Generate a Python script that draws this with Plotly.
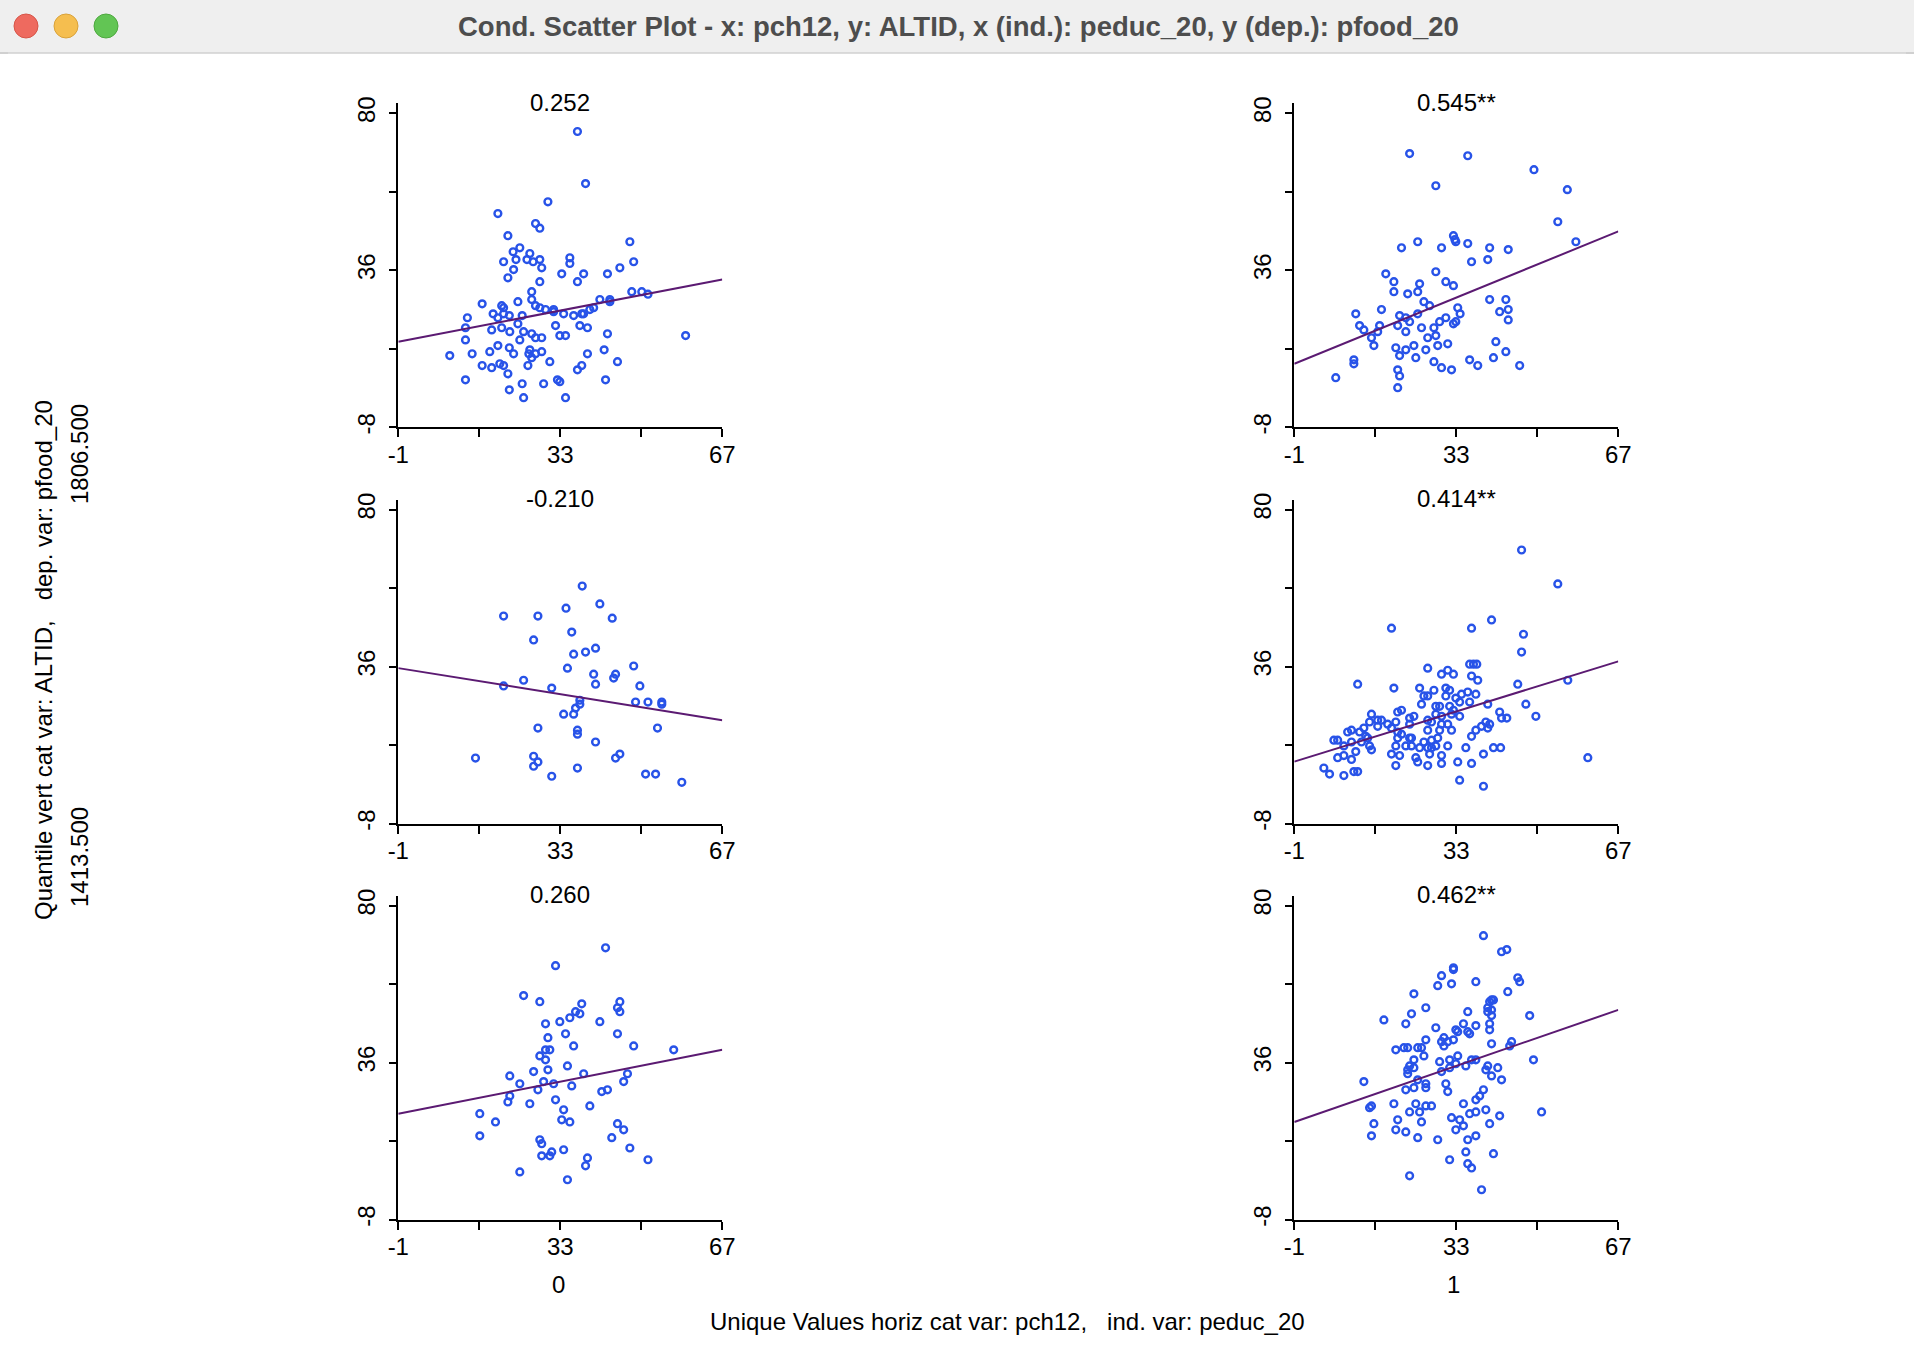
import plotly.graph_objects as go

# browser window size and the default page margin around the figure
WIN_W, WIN_H = 1914, 1368
PAGE_MARGIN = 8
W, H = WIN_W - 2 * PAGE_MARGIN, WIN_H - 2 * PAGE_MARGIN

window_title = "Cond. Scatter Plot - x: pch12, y: ALTID, x (ind.): peduc_20, y (dep.): pfood_20"
col_labels = ["0", "1"]
row_cut_labels = ["1806.500", "1413.500"]
x_axis_title = "Unique Values horiz cat var: pch12,\u00a0\u00a0\u00a0ind. var: peduc_20"
y_axis_title = "Quantile vert cat var: ALTID,\u00a0\u00a0\u00a0dep. var: pfood_20"
corr_labels = [["0.252", "0.545**"], ["-0.210", "0.414**"], ["0.260", "0.462**"]]

x_ticks = [-1, 16, 33, 50, 67]
x_tick_text = ["-1", "", "33", "", "67"]
y_ticks = [-8, 14, 36, 58, 80]
y_tick_text = ["-8", "", "36", "", "80"]

# row 0 (top), col 0
r0c0_x = [36.6,38.3,30.4,19.9,27.8,28.7,22.0,47.6,24.5,23.1,
          26.6,35.0,21.1,23.7,26.0,27.3,28.7,35.0,48.4,23.2,
          29.1,45.5,22.0,33.3,37.9,42.9,28.7,36.6,27.0,48.0,
          50.1,51.4,27.0,41.3,43.4,43.4,16.6,24.1,20.7,21.1,
          27.8,28.7,29.9,31.6,31.6,40.0,39.2,33.7,35.8,37.5,
          37.9,13.5,18.9,19.9,22.3,21.1,25.0,13.1,18.6,20.7,
          22.4,24.1,32.0,37.1,38.7,25.3,27.0,27.8,29.1,32.9,
          34.1,42.9,59.3,13.1,24.5,19.9,22.3,26.6,14.5,18.2,
          23.2,26.4,27.8,29.1,27.0,42.2,38.7,9.8,16.6,18.6,
          20.3,21.1,22.0,26.2,30.8,36.6,37.5,45.0,13.1,32.4,
          32.9,42.5,25.0,29.5,22.3,25.3,34.1]
r0c0_y = [74.9,60.3,55.2,51.9,49.1,47.8,45.7,44.0,42.3,41.2,
          40.7,39.5,38.4,39.0,39.0,38.4,39.0,37.9,38.4,36.2,
          36.7,36.7,33.9,35.0,35.0,35.0,32.8,32.8,30.0,30.0,
          30.0,29.3,27.8,27.8,27.8,27.2,26.6,27.2,26.1,25.5,
          26.1,25.5,25.0,25.0,24.4,25.5,25.0,23.8,23.3,23.8,
          23.8,22.7,23.8,22.7,23.3,23.8,23.3,19.9,19.3,19.9,
          18.8,21.0,20.5,20.5,19.9,18.8,18.2,17.1,17.1,17.7,
          17.7,18.2,17.7,16.5,16.5,14.9,14.3,13.7,12.6,13.2,
          12.6,12.6,12.6,13.2,11.5,13.7,12.6,12.1,9.3,8.7,
          9.8,9.3,7.0,9.3,10.4,8.1,9.3,10.4,5.3,5.3,
          4.8,5.3,4.2,4.2,2.5,0.3,0.3]

# row 0, col 1
r0c1_x = [23.2,35.4,49.3,28.7,56.3,54.3,32.4,32.7,32.9,24.9,
          58.1,35.4,21.5,29.9,40.0,43.9,39.6,36.2,28.7,18.2,
          19.9,30.8,25.3,32.4,19.9,24.9,22.8,26.2,27.4,40.0,
          43.4,17.3,33.3,33.8,42.1,43.9,43.9,11.9,21.1,22.4,
          23.2,24.9,30.8,29.5,32.4,32.9,12.7,13.6,16.9,20.7,
          25.7,28.3,16.5,22.4,15.2,27.0,28.7,15.7,20.3,24.1,
          29.1,31.2,41.3,22.4,26.6,43.4,21.1,24.5,40.8,11.5,
          11.5,28.3,35.8,37.5,46.3,29.9,32.0,20.7,21.1,7.7,
          20.7]
r0c1_y = [68.7,68.1,64.2,59.7,58.6,49.6,45.7,44.6,44.0,44.0,
          44.0,43.5,42.3,42.3,42.3,41.8,39.0,38.4,35.6,35.0,
          32.8,32.8,32.2,31.7,30.0,30.0,29.4,27.2,26.1,27.8,
          27.8,25.0,25.5,23.8,24.4,25.0,22.1,23.8,23.3,22.7,
          21.6,23.8,22.7,21.6,21.0,21.6,20.5,19.3,20.5,20.5,
          19.9,19.9,18.8,18.8,17.1,17.1,17.7,14.9,14.3,14.9,
          14.9,15.4,16.0,13.7,13.7,13.2,12.1,11.5,11.5,10.9,
          9.8,10.4,10.9,9.3,9.3,8.7,8.1,8.1,6.4,5.9,
          3.1]

# row 1, col 0
r1c0_x = [37.6,41.3,34.2,21.1,28.3,43.9,35.4,27.4,40.4,38.3,
          35.8,48.4,34.5,40.0,44.6,44.2,40.4,25.3,21.1,31.2,
          49.7,37.1,37.1,36.2,48.8,51.4,54.3,54.3,33.7,35.8,
          28.3,36.6,36.6,53.4,40.4,15.2,27.4,28.3,27.4,44.6,
          45.5,36.6,31.2,50.9,53.0,58.5]
r1c0_y = [58.6,53.6,52.4,50.2,50.2,49.6,45.7,43.5,41.2,40.1,
          39.5,36.2,35.6,33.9,33.9,32.8,31.1,32.2,30.6,30.0,
          30.6,26.6,25.5,24.4,26.1,26.1,26.1,25.5,22.7,22.7,
          18.8,18.2,17.1,18.8,14.9,10.4,10.9,9.3,8.1,10.4,
          11.5,7.6,5.3,5.9,5.9,3.6]

# row 1, col 1
r1c1_x = [46.7,54.3,40.4,19.4,36.2,47.1,46.7,27.0,31.2,29.9,
          32.4,35.8,36.6,37.3,36.2,37.5,56.4,12.3,45.9,19.9,
          25.3,28.3,30.8,31.6,26.2,27.0,30.8,32.9,34.1,35.4,
          37.1,25.7,28.7,29.5,31.6,33.7,35.8,39.6,47.6,15.2,
          20.7,21.5,28.7,29.9,32.4,33.7,42.1,49.7,42.5,43.6,
          16.5,17.3,14.8,18.6,20.3,23.2,24.1,27.0,27.8,29.9,
          31.2,39.2,40.0,13.6,16.5,19.4,23.2,27.0,29.5,32.0,
          37.1,38.3,39.6,10.2,11.0,12.7,14.0,14.4,20.7,21.5,
          20.7,23.2,23.6,26.2,27.8,29.1,36.2,7.3,8.1,11.0,
          13.1,9.4,14.8,15.2,20.3,22.4,23.6,25.3,27.0,27.8,
          28.7,31.2,35.0,40.8,42.3,11.9,9.4,8.1,11.0,19.4,
          21.1,24.5,24.9,27.4,29.9,29.9,33.3,36.2,38.7,60.6,
          5.2,6.4,9.4,11.5,12.3,20.3,27.0,33.7,38.7,32.0]
r1c1_y = [68.7,59.2,49.1,46.8,46.8,45.1,40.1,35.6,35.0,33.9,
          33.9,36.7,36.7,36.7,33.4,32.2,32.2,31.1,31.1,30.0,
          30.0,29.4,30.0,29.4,27.8,27.8,27.8,27.2,28.3,28.9,
          28.3,25.5,24.9,24.9,24.9,26.1,26.1,25.5,25.5,22.7,
          23.3,23.8,22.7,22.1,23.8,22.1,23.3,22.1,21.6,21.6,
          21.0,21.0,20.5,19.9,20.5,21.6,22.1,21.0,20.5,19.9,
          19.9,20.5,19.9,18.8,19.3,18.8,19.9,18.2,18.2,18.2,
          18.2,19.3,18.8,17.7,18.2,17.7,16.5,16.0,17.7,17.1,
          16.0,16.0,16.0,14.9,15.4,16.0,16.5,15.4,15.4,14.9,
          14.9,13.8,13.8,12.7,13.8,13.8,13.8,13.3,13.3,13.3,
          13.8,13.8,13.3,13.3,13.3,12.2,11.1,10.5,10.0,11.5,
          11.1,10.5,9.3,11.5,11.1,8.9,9.3,8.9,11.5,10.5,
          7.6,5.9,5.5,6.6,6.6,8.3,8.3,4.2,2.5,22.7]

# row 2, col 0
r2c0_x = [42.5,32.0,25.3,28.7,45.5,45.0,45.5,37.5,36.2,37.1,
          35.0,32.9,41.3,29.9,34.1,45.0,30.4,35.8,48.4,56.8,
          29.9,30.8,28.7,29.9,34.5,27.4,30.4,37.9,47.1,22.4,
          29.5,31.6,24.5,35.4,46.3,28.3,41.7,42.9,22.4,22.0,
          26.6,32.0,39.2,33.7,16.1,19.4,33.3,35.0,45.0,46.3,
          16.1,28.7,29.1,43.8,47.6,31.2,33.7,29.1,30.8,38.7,
          38.3,51.4,24.5,34.5]
r2c0_y = [68.2,63.2,54.8,53.1,53.1,51.4,50.3,52.5,50.3,49.7,
          48.6,47.5,47.5,46.9,44.1,44.1,43.0,40.7,40.7,39.6,
          39.6,39.6,37.9,36.8,35.1,33.5,34.0,32.9,32.9,32.3,
          30.7,30.1,30.1,29.5,30.7,28.4,27.9,28.4,26.7,25.0,
          24.5,25.6,23.9,22.8,21.7,19.4,20.0,19.4,18.9,17.2,
          15.5,14.4,13.3,15.0,12.1,11.0,11.6,9.9,9.9,9.3,
          7.1,8.8,5.4,3.2]

# row 2, col 1
r2c1_x = [38.7,42.5,43.6,32.4,32.4,29.9,45.9,46.3,37.1,29.1,
          32.0,43.8,24.1,40.4,40.8,40.0,26.6,39.6,39.6,40.4,
          40.4,35.4,23.6,48.4,17.8,22.4,34.5,37.1,40.0,28.7,
          40.0,32.9,33.3,35.4,35.8,30.4,32.4,29.9,31.2,26.6,
          30.4,40.4,44.6,44.2,20.3,22.0,22.8,24.9,25.7,26.2,
          24.1,33.3,29.5,31.6,32.9,35.0,36.2,37.1,49.2,23.2,
          24.1,22.8,22.8,29.9,31.6,39.6,39.2,41.7,40.4,42.5,
          13.6,24.9,26.6,30.8,22.4,24.1,26.6,31.2,38.7,37.9,
          37.1,19.9,24.5,26.6,27.8,34.5,14.8,15.2,23.2,25.3,
          35.8,37.1,39.2,32.0,33.7,42.1,20.7,25.7,15.7,40.0,
          34.5,32.9,20.3,22.4,15.2,24.9,29.1,35.4,37.1,35.0,
          40.8,31.6,35.4,36.2,23.2,38.3,50.9]
r2c1_y = [71.6,67.1,67.7,62.6,62.1,60.4,59.8,58.7,58.7,57.6,
          58.1,55.9,55.3,53.6,53.6,53.1,51.4,51.4,50.3,50.8,
          49.2,50.3,49.7,49.2,48.0,46.9,46.9,46.4,46.9,45.8,
          45.2,45.2,44.7,44.7,44.1,43.0,42.4,41.9,41.9,42.4,
          40.7,41.3,41.9,40.7,39.6,40.2,40.2,40.2,40.2,37.9,
          36.8,37.9,36.3,36.8,35.7,35.1,36.8,36.8,36.8,35.1,
          34.6,34.0,32.9,33.5,34.6,35.1,34.0,34.6,32.3,31.2,
          30.7,31.2,30.1,30.1,28.4,29.0,29.0,27.9,28.4,26.7,
          25.6,24.5,24.5,23.9,23.9,24.5,23.4,23.9,22.2,22.2,
          21.7,22.2,22.8,20.6,20.0,21.1,20.0,19.4,18.9,18.9,
          18.3,17.2,17.2,16.6,15.5,15.0,14.4,14.4,15.5,11.0,
          10.5,8.8,7.7,6.5,4.3,0.4,22.2]

# regression lines: y at x = -1 and x = 67
fit_x = [-1, 67]
r0c0_fit = [16.0, 33.4]
r0c1_fit = [9.8, 46.9]
r1c0_fit = [35.6, 21.0]
r1c1_fit = [9.4, 37.5]
r2c0_fit = [21.7, 39.6]
r2c1_fit = [19.4, 50.8]

panels = [
    [(r0c0_x, r0c0_y, r0c0_fit), (r0c1_x, r0c1_y, r0c1_fit)],
    [(r1c0_x, r1c0_y, r1c0_fit), (r1c1_x, r1c1_y, r1c1_fit)],
    [(r2c0_x, r2c0_y, r2c0_fit), (r2c1_x, r2c1_y, r2c1_fit)],
]

# ---------------- layout (window pixels) ----------------
FONT = "Liberation Sans, Arial, Helvetica, sans-serif"
FS = 24
col_left = [398.3, 1294.3]
plot_w = 324.0
row_top80 = [113.3, 509.7, 905.7]
plot_h = 314.0  # from y=80 to y=-8
ext_px = 10.0   # y-axis line extends above 80
y_top = 80 + ext_px * 88.0 / plot_h
BAR_H = 53
BAR_COLOR = "#efefef"
BAR_EDGE = "#d0d0d0"

def px(x):
    return (x - PAGE_MARGIN) / W

def py(y):
    return 1 - (y - PAGE_MARGIN) / H

fig = go.Figure()
layout_axes = {}
annotations = []
k = 0
for r in range(3):
    for c in range(2):
        k += 1
        xs, ys, fit = panels[r][c]
        xa = "x" if k == 1 else f"x{k}"
        ya = "y" if k == 1 else f"y{k}"
        fig.add_trace(go.Scatter(
            x=xs, y=ys, mode="markers", xaxis=xa, yaxis=ya,
            marker=dict(symbol="circle-open", size=6.8, color="#2853e8",
                        line=dict(width=2.4, color="#2853e8")),
            showlegend=False, hoverinfo="x+y"))
        fig.add_trace(go.Scatter(
            x=fit_x, y=fit, mode="lines", xaxis=xa, yaxis=ya,
            line=dict(color="#5b1a72", width=2),
            showlegend=False, hoverinfo="skip"))
        x0 = col_left[c]
        bottom = row_top80[r] + plot_h
        top = row_top80[r] - ext_px
        common = dict(showline=True, linecolor="black", linewidth=1.6,
                      ticks="outside", ticklen=8, tickwidth=1.6, tickcolor="black",
                      showgrid=False, zeroline=False, automargin=False,
                      tickfont=dict(family=FONT, size=FS, color="black"),
                      fixedrange=True)
        layout_axes["xaxis" if k == 1 else f"xaxis{k}"] = dict(
            domain=[px(x0), px(x0 + plot_w)], anchor=ya, range=[-1, 67],
            tickmode="array", tickvals=x_ticks, ticktext=x_tick_text,
            ticklabelstandoff=-3, **common)
        layout_axes["yaxis" if k == 1 else f"yaxis{k}"] = dict(
            domain=[py(bottom), py(top)], anchor=xa, range=[-8, y_top],
            tickmode="array", tickvals=y_ticks, ticktext=y_tick_text,
            tickangle=-90, ticklabelstandoff=4, **common)
        annotations.append(dict(
            text=corr_labels[r][c], xref="paper", yref="paper",
            x=px(x0 + plot_w / 2), y=py(row_top80[r] - 11),
            showarrow=False, xanchor="center", yanchor="middle",
            font=dict(family=FONT, size=FS, color="black")))

# column labels and x title
col_label_x = [558, 1453]
for c in range(2):
    annotations.append(dict(text=col_labels[c], xref="paper", yref="paper",
                            x=px(col_label_x[c]), y=py(1284), showarrow=False,
                            xanchor="center", yanchor="middle",
                            font=dict(family=FONT, size=FS, color="black")))
annotations.append(dict(text=x_axis_title, xref="paper", yref="paper",
                        x=px(1007), y=py(1321), showarrow=False,
                        xanchor="center", yanchor="middle",
                        font=dict(family=FONT, size=FS, color="black")))
# left titles
annotations.append(dict(text=y_axis_title, xref="paper", yref="paper",
                        x=px(43), y=py(660), showarrow=False, textangle=-90,
                        xanchor="center", yanchor="middle",
                        font=dict(family=FONT, size=FS, color="black")))
row_cut_y = [454, 857]
for i in range(2):
    annotations.append(dict(text=row_cut_labels[i], xref="paper", yref="paper",
                            x=px(79), y=py(row_cut_y[i]), showarrow=False,
                            textangle=-90, xanchor="center", yanchor="middle",
                            font=dict(family=FONT, size=FS, color="black")))

# window title bar
annotations.append(dict(text="<b>" + window_title + "</b>", xref="paper", yref="paper",
                        x=px(958), y=py(26), showarrow=False,
                        xanchor="center", yanchor="middle",
                        font=dict(family=FONT, size=27.5, color="#4d4d4d")))

shapes = [
    dict(type="rect", xref="paper", yref="paper", x0=0, x1=1, y0=py(BAR_H), y1=1,
         fillcolor=BAR_COLOR, line=dict(width=0), layer="below"),
    dict(type="line", xref="paper", yref="paper", x0=0, x1=1, y0=py(BAR_H), y1=py(BAR_H),
         line=dict(color=BAR_EDGE, width=1.5)),
]
for cx, col, edge in [(26, "#ee6a5f", "#d65548"), (66, "#f5be4f", "#d9a23a"),
                      (106, "#62c554", "#4ea83f")]:
    r_ = 12
    shapes.append(dict(type="circle", xref="paper", yref="paper",
                       x0=px(cx - r_), x1=px(cx + r_), y0=py(26 + r_), y1=py(26 - r_),
                       fillcolor=col, line=dict(color=edge, width=1)))

fig.update_layout(
    width=W, height=H, autosize=False,
    margin=dict(l=0, r=0, t=0, b=0, pad=0, autoexpand=False),
    paper_bgcolor="white", plot_bgcolor="white",
    font=dict(family=FONT, size=FS, color="black"),
    annotations=annotations, shapes=shapes, showlegend=False,
    **layout_axes)

# extend the title-bar colour into the page margin strips (background only, no layout change)
page_bg = (
    "document.body.style.background='linear-gradient(to bottom, %s 0px, %s %dpx, %s %dpx, %s %dpx, #ffffff %dpx)';"
    % (BAR_COLOR, BAR_COLOR, BAR_H - 1, BAR_EDGE, BAR_H - 1, BAR_EDGE, BAR_H + 1, BAR_H + 1)
)
fig.write_html("out.html", config={"displayModeBar": False}, post_script=page_bg)
